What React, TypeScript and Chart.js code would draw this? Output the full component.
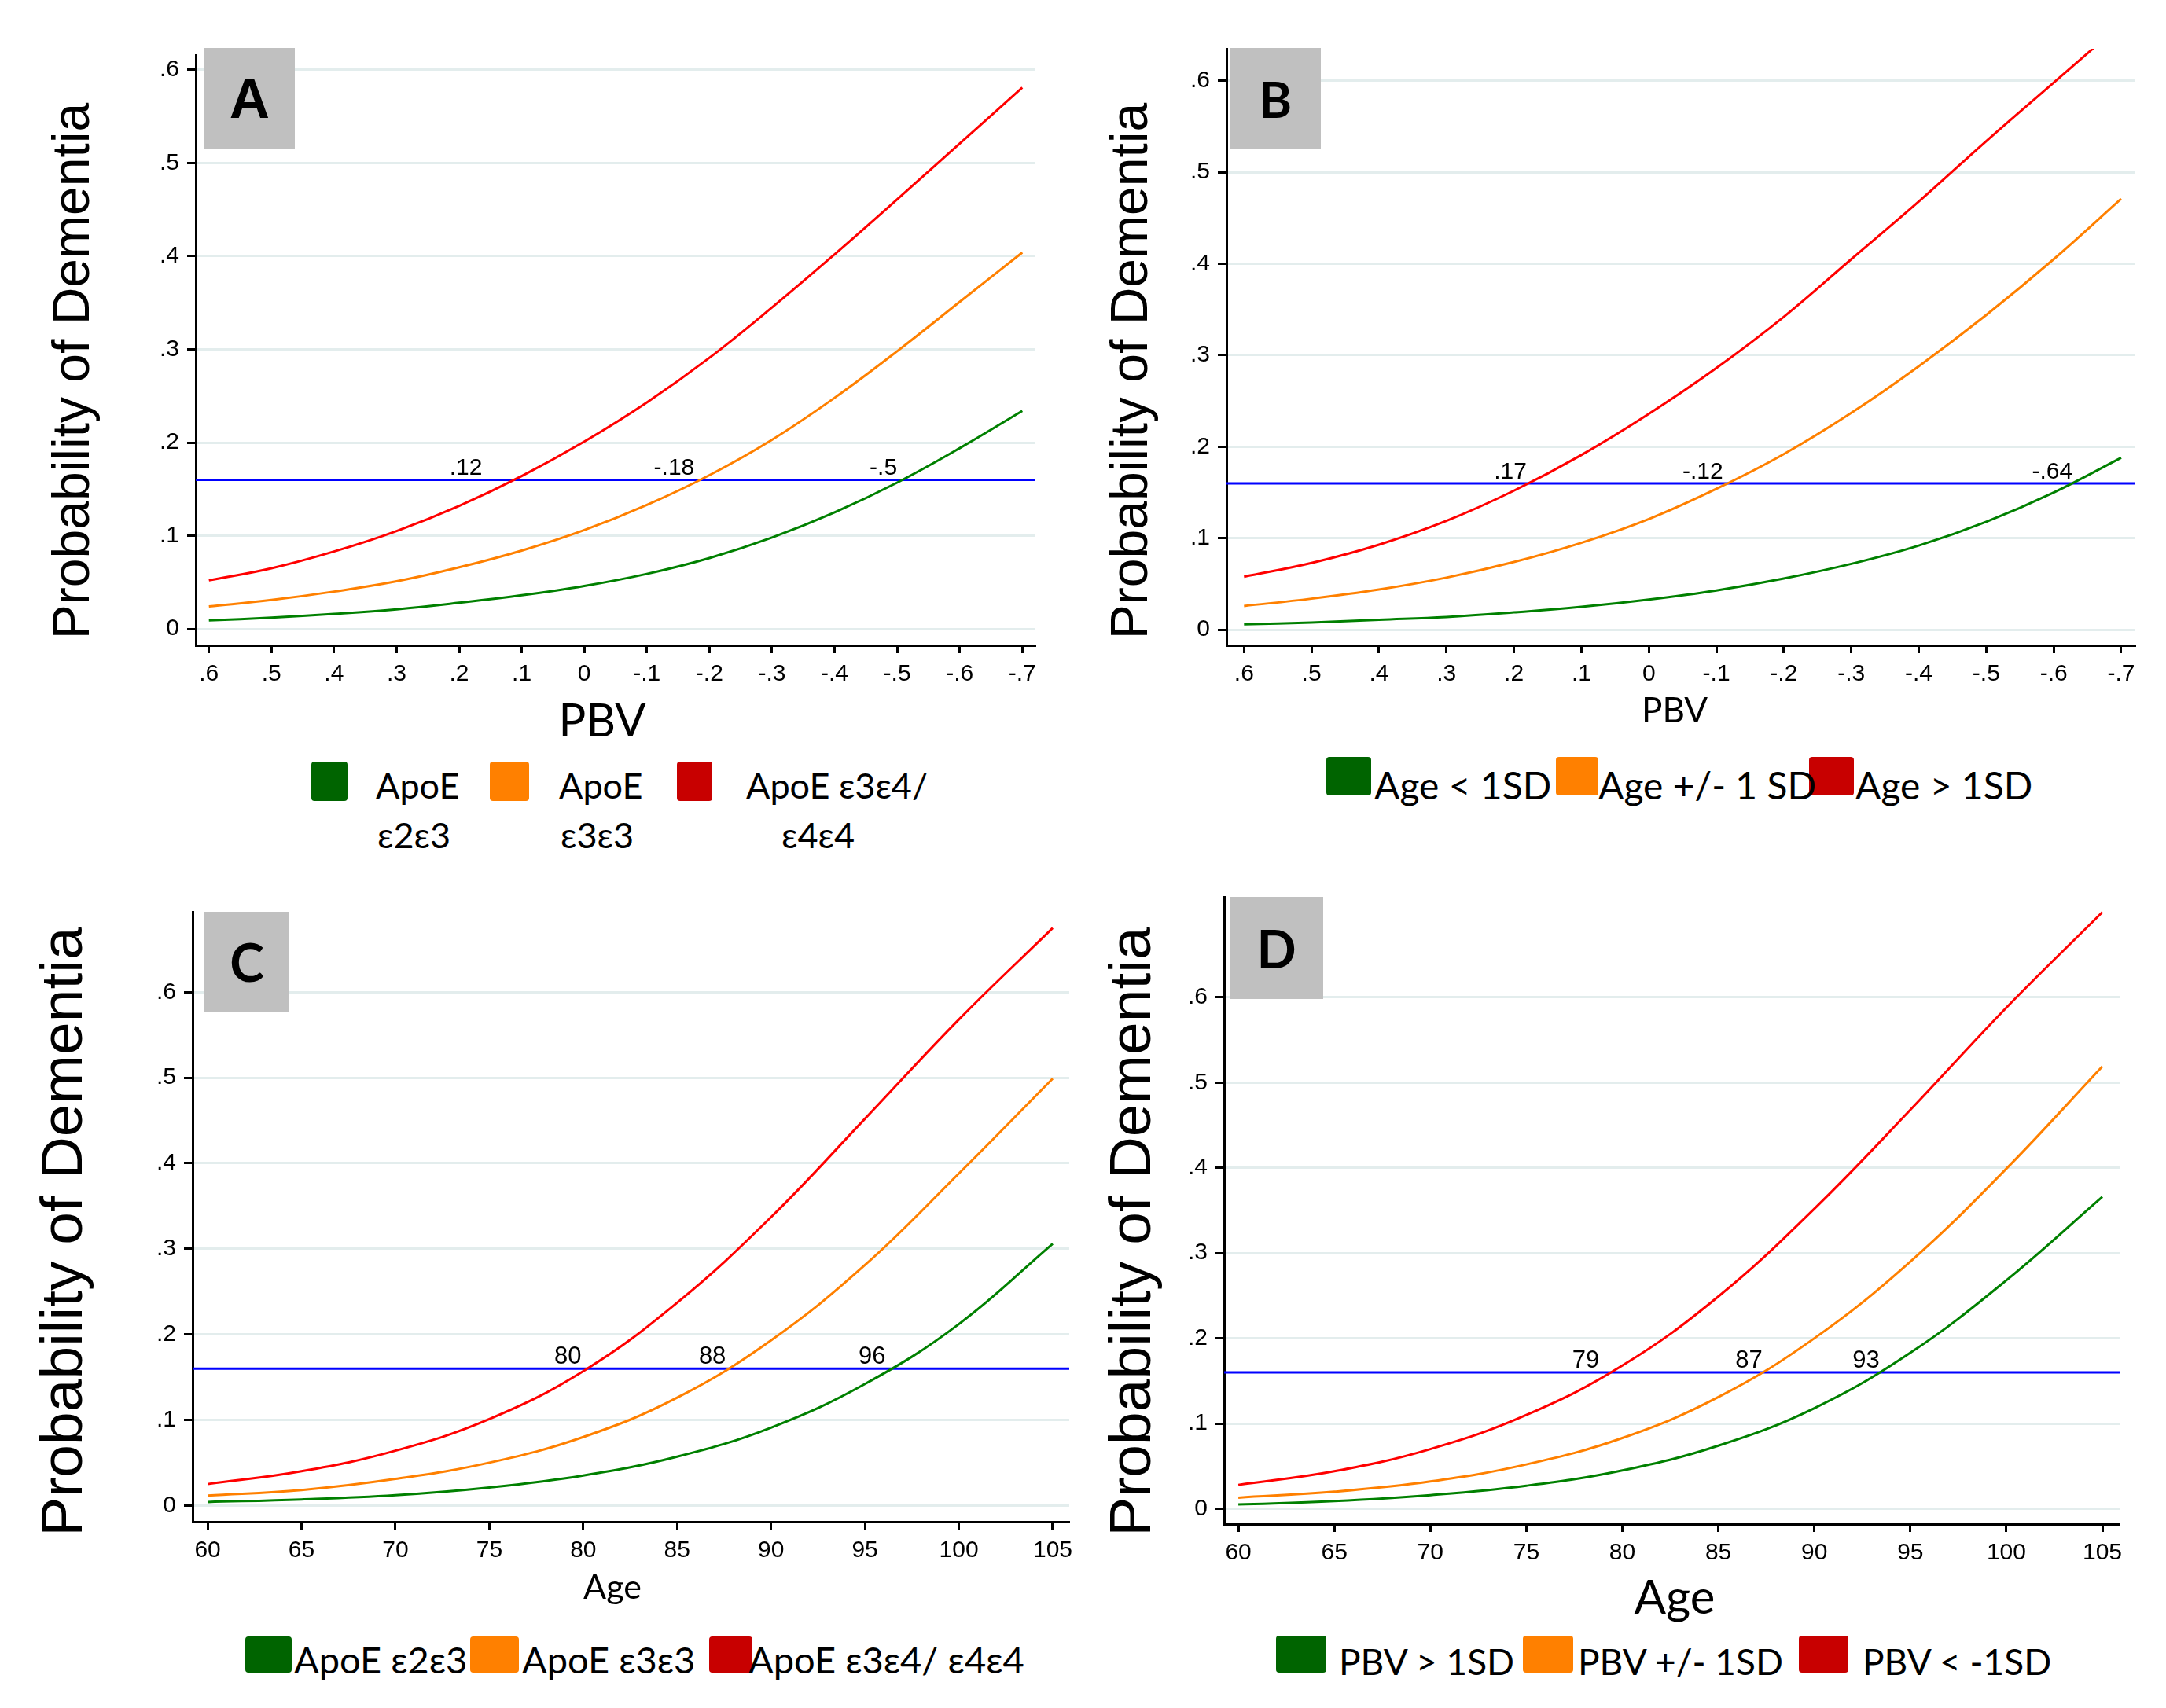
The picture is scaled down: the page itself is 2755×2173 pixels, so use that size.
import React, { useEffect, useRef } from "react";
import { Chart, registerables } from "chart.js";
Chart.register(...registerables);

// ---------- data ----------
const pbvValues = [0.6, 0.5, 0.4, 0.3, 0.2, 0.1, 0, -0.1, -0.2, -0.3, -0.4, -0.5, -0.6, -0.7];
const ageValues = [60, 65, 70, 75, 80, 85, 90, 95, 100, 105];
const pbvTicks = [0.6, 0.5, 0.4, 0.3, 0.2, 0.1, 0, -0.1, -0.2, -0.3, -0.4, -0.5, -0.6, -0.7];
const ageTicks = [60, 65, 70, 75, 80, 85, 90, 95, 100, 105];
const probTicks = [0, 0.1, 0.2, 0.3, 0.4, 0.5, 0.6];
const threshold = 0.16;

// Panel A: PBV by ApoE
const aGreen = [0.009, 0.012, 0.016, 0.021, 0.028, 0.036, 0.046, 0.059, 0.076, 0.098, 0.125, 0.157, 0.194, 0.234];
const aOrange = [0.024, 0.031, 0.04, 0.051, 0.066, 0.084, 0.106, 0.133, 0.165, 0.203, 0.248, 0.298, 0.351, 0.404];
const aRed = [0.052, 0.065, 0.083, 0.105, 0.132, 0.164, 0.201, 0.243, 0.291, 0.345, 0.402, 0.461, 0.521, 0.581];
const aCrossLabels = [".12", "-.18", "-.5"];
const aCrossAt = [0.163, -0.176, -0.5];
const aLegend = ["ApoE\nε2ε3", "ApoE\nε3ε3", "ApoE ε3ε4/\nε4ε4"];

// Panel B: PBV by Age group
const bGreen = [0.006, 0.008, 0.011, 0.014, 0.019, 0.025, 0.033, 0.043, 0.056, 0.072, 0.092, 0.118, 0.15, 0.188];
const bOrange = [0.026, 0.034, 0.044, 0.057, 0.074, 0.095, 0.121, 0.154, 0.192, 0.237, 0.288, 0.344, 0.405, 0.471];
const bRed = [0.058, 0.073, 0.093, 0.119, 0.152, 0.191, 0.236, 0.286, 0.342, 0.405, 0.468, 0.534, 0.598, 0.662];
const bCrossLabels = [".17", "-.12", "-.64"];
const bCrossAt = [0.181, -0.11, -0.628];
const bLegend = ["Age < 1SD", "Age +/- 1 SD", "Age > 1SD"];

// Panel C: Age by ApoE
const cGreen = [0.004, 0.007, 0.012, 0.021, 0.035, 0.057, 0.091, 0.142, 0.212, 0.306];
const cOrange = [0.0115, 0.018, 0.031, 0.05, 0.08, 0.126, 0.193, 0.281, 0.388, 0.499];
const cRed = [0.025, 0.04, 0.064, 0.101, 0.157, 0.237, 0.337, 0.452, 0.568, 0.675];
const cCrossLabels = ["80", "88", "96"];
const cCrossAt = [79.9, 87.6, 96.1];
const cLegend = ["ApoE ε2ε3", "ApoE ε3ε3", "ApoE ε3ε4/ ε4ε4"];

// Panel D: Age by PBV group
const dGreen = [0.005, 0.009, 0.016, 0.027, 0.045, 0.074, 0.118, 0.183, 0.268, 0.366];
const dOrange = [0.013, 0.02, 0.032, 0.052, 0.083, 0.131, 0.2, 0.29, 0.399, 0.519];
const dRed = [0.028, 0.044, 0.07, 0.11, 0.168, 0.249, 0.352, 0.468, 0.588, 0.7];
const dCrossLabels = ["79", "87", "93"];
const dCrossAt = [78.8, 87.3, 93.4];
const dLegend = ["PBV > 1SD", "PBV +/- 1SD", "PBV < -1SD"];

const yTitleText = "Probability of Dementia";

// ---------- styles ----------
const LINE_COLORS = ["#008000", "#ff8000", "#ff0000"];
const SWATCH_COLORS = ["#006400", "#ff8000", "#c80000"];
const ARIAL = "'Liberation Sans', Arial, sans-serif";
const CAL = "Lato, 'Noto Sans', 'Open Sans', sans-serif";

const fmtDec = (v: number) => {
  const r = Math.round(v * 10) / 10;
  if (r === 0) return "0";
  const s = Math.abs(r).toFixed(1).slice(1);
  return (r < 0 ? "-" : "") + s;
};
const fmtInt = (v: number) => String(Math.round(v));

type Box = { l: number; t: number; w: number; h: number };
type Panel = {
  key: string;
  canvas: Box;
  area: { l: number; t: number; r: number; b: number };
  xValues: number[];
  xTicks: number[];
  xFmt: (v: number) => string;
  xMin: number;
  xMax: number;
  reverse: boolean;
  yMin: number;
  yMax: number;
  series: number[][];
  xTitle: string;
  xTitleSize: number;
  xTitleX: number;
  xTitleBase: number;
  yTitleX: number;
  yTitleY: number;
  yTitleSize: number;
  crossLabels: string[];
  crossAt: number[];
  crossSize: number;
  letter: string;
  letterBox: Box;
  letterFont: string;
  legendText: string[];
  swatches: Box[];
  lineLefts: number[][];
  textTop: number;
  textSize: number;
  lineHeight: number;
};

const panels: Panel[] = [
  {
    key: "A",
    canvas: { l: 0, t: 0, w: 1390, h: 960 },
    area: { l: 249, t: 70, r: 1317, b: 821 },
    xValues: pbvValues,
    xTicks: pbvTicks,
    xFmt: fmtDec,
    xMin: -0.721,
    xMax: 0.621,
    reverse: true,
    yMin: -0.0177,
    yMax: 0.616,
    series: [aGreen, aOrange, aRed],
    xTitle: "PBV",
    xTitleSize: 58,
    xTitleX: 766,
    xTitleBase: 937,
    yTitleX: 95,
    yTitleY: 472,
    yTitleSize: 66,
    crossLabels: aCrossLabels,
    crossAt: aCrossAt,
    crossSize: 30,
    letter: "A",
    letterBox: { l: 260, t: 61, w: 115, h: 128 },
    letterFont: `bold 71px ${ARIAL}`,
    legendText: aLegend,
    swatches: [
      { l: 396, t: 969, w: 46, h: 50 },
      { l: 623, t: 969, w: 50, h: 50 },
      { l: 861, t: 969, w: 45, h: 50 },
    ],
    lineLefts: [
      [478, 480],
      [711, 713],
      [949, 994],
    ],
    textTop: 968,
    textSize: 45,
    lineHeight: 63,
  },
  {
    key: "B",
    canvas: { l: 1390, t: 0, w: 1365, h: 960 },
    area: { l: 1560, t: 62, r: 2716, b: 821 },
    xValues: pbvValues,
    xTicks: pbvTicks,
    xFmt: fmtDec,
    xMin: -0.721,
    xMax: 0.626,
    reverse: true,
    yMin: -0.017,
    yMax: 0.635,
    series: [bGreen, bOrange, bRed],
    xTitle: "PBV",
    xTitleSize: 44,
    xTitleX: 2130,
    xTitleBase: 919,
    yTitleX: 1441,
    yTitleY: 472,
    yTitleSize: 66,
    crossLabels: bCrossLabels,
    crossAt: bCrossAt,
    crossSize: 30,
    letter: "B",
    letterBox: { l: 1564, t: 61, w: 116, h: 128 },
    letterFont: `bold 64px ${CAL}`,
    legendText: bLegend,
    swatches: [
      { l: 1687, t: 963, w: 57, h: 49 },
      { l: 1979, t: 963, w: 54, h: 49 },
      { l: 2301, t: 963, w: 57, h: 49 },
    ],
    lineLefts: [[1748], [2033], [2360]],
    textTop: 970,
    textSize: 48,
    lineHeight: 58,
  },
  {
    key: "C",
    canvas: { l: 0, t: 1100, w: 1400, h: 960 },
    area: { l: 245, t: 1160, r: 1360, b: 1936 },
    xValues: ageValues,
    xTicks: ageTicks,
    xFmt: fmtInt,
    xMin: 59.2,
    xMax: 105.88,
    reverse: false,
    yMin: -0.019,
    yMax: 0.694,
    series: [cGreen, cOrange, cRed],
    xTitle: "Age",
    xTitleSize: 43,
    xTitleX: 779,
    xTitleBase: 2034,
    yTitleX: 83,
    yTitleY: 1567,
    yTitleSize: 75,
    crossLabels: cCrossLabels,
    crossAt: cCrossAt,
    crossSize: 31,
    letter: "C",
    letterBox: { l: 260, t: 1160, w: 108, h: 127 },
    letterFont: `bold 66px ${CAL}`,
    legendText: cLegend,
    swatches: [
      { l: 312, t: 2082, w: 59, h: 46 },
      { l: 598, t: 2082, w: 62, h: 46 },
      { l: 902, t: 2082, w: 55, h: 46 },
    ],
    lineLefts: [[374], [664], [952]],
    textTop: 2083,
    textSize: 47,
    lineHeight: 56,
  },
  {
    key: "D",
    canvas: { l: 1390, t: 1100, w: 1365, h: 980 },
    area: { l: 1557, t: 1141, r: 2696, b: 1939 },
    xValues: ageValues,
    xTicks: ageTicks,
    xFmt: fmtInt,
    xMin: 59.26,
    xMax: 105.9,
    reverse: false,
    yMin: -0.018,
    yMax: 0.718,
    series: [dGreen, dOrange, dRed],
    xTitle: "Age",
    xTitleSize: 60,
    xTitleX: 2130,
    xTitleBase: 2053,
    yTitleX: 1442,
    yTitleY: 1567,
    yTitleSize: 75,
    crossLabels: dCrossLabels,
    crossAt: dCrossAt,
    crossSize: 31,
    letter: "D",
    letterBox: { l: 1564, t: 1141, w: 119, h: 130 },
    letterFont: `bold 66px ${CAL}`,
    legendText: dLegend,
    swatches: [
      { l: 1623, t: 2081, w: 64, h: 47 },
      { l: 1937, t: 2081, w: 64, h: 47 },
      { l: 2288, t: 2081, w: 63, h: 47 },
    ],
    lineLefts: [[1703], [2007], [2369]],
    textTop: 2086,
    textSize: 46,
    lineHeight: 55,
  },
];

// ---------- plugin: threshold line, crossing labels, axis titles ----------
const annotPlugin = {
  id: "annot",
  beforeDatasetsDraw(chart: any, _args: any, opts: any) {
    const { ctx, chartArea, scales } = chart;
    const yy = scales.y.getPixelForValue(opts.threshold);
    ctx.save();
    ctx.strokeStyle = "#0000ff";
    ctx.lineWidth = 3;
    ctx.beginPath();
    ctx.moveTo(chartArea.left, yy);
    ctx.lineTo(chartArea.right, yy);
    ctx.stroke();
    ctx.restore();
  },
  afterDraw(chart: any, _args: any, opts: any) {
    const { ctx, scales } = chart;
    const yy = scales.y.getPixelForValue(opts.threshold);
    ctx.save();
    ctx.fillStyle = "#000";
    ctx.font = `${opts.crossSize}px ${ARIAL}`;
    ctx.textAlign = "right";
    ctx.textBaseline = "alphabetic";
    const labels: string[] = opts.labels;
    const at: number[] = opts.at;
    for (let i = 0; i < labels.length; i++) {
      ctx.fillText(labels[i], scales.x.getPixelForValue(at[i]), yy - 6);
    }
    // x axis title
    ctx.font = `${opts.xTitleSize}px ${CAL}`;
    ctx.textAlign = "center";
    ctx.textBaseline = "alphabetic";
    ctx.fillText(opts.xTitle, opts.xTitleX, opts.xTitleBase);
    // y axis title
    ctx.translate(opts.yTitleX, opts.yTitleY);
    ctx.rotate(-Math.PI / 2);
    ctx.font = `${opts.yTitleSize}px ${ARIAL}`;
    ctx.textAlign = "center";
    ctx.textBaseline = "middle";
    ctx.fillText(opts.yTitle, 0, 0);
    ctx.restore();
  },
};

function makeConfig(p: Panel): any {
  const tickFont = { family: ARIAL, size: 30 };
  return {
    type: "line",
    data: {
      datasets: p.series.map((s, i) => ({
        data: p.xValues.map((x, j) => ({ x, y: s[j] })),
        borderColor: LINE_COLORS[i],
        borderWidth: 3,
        pointRadius: 0,
        fill: false,
        tension: 0.4,
      })),
    },
    options: {
      animation: false,
      responsive: false,
      maintainAspectRatio: false,
      devicePixelRatio: 1,
      events: [],
      layout: {
        padding: {
          top: p.area.t - p.canvas.t,
          right: p.canvas.l + p.canvas.w - p.area.r,
          left: 0,
          bottom: 0,
        },
      },
      plugins: {
        legend: { display: false },
        tooltip: { enabled: false },
        annot: {
          threshold,
          labels: p.crossLabels,
          at: p.crossAt,
          crossSize: p.crossSize,
          xTitle: p.xTitle,
          xTitleSize: p.xTitleSize,
          xTitleX: p.xTitleX - p.canvas.l,
          xTitleBase: p.xTitleBase - p.canvas.t,
          yTitle: yTitleText,
          yTitleX: p.yTitleX - p.canvas.l,
          yTitleY: p.yTitleY - p.canvas.t,
          yTitleSize: p.yTitleSize,
        },
      },
      scales: {
        x: {
          type: "linear",
          min: p.xMin,
          max: p.xMax,
          reverse: p.reverse,
          afterBuildTicks: (s: any) => {
            s.ticks = p.xTicks.map((v) => ({ value: v }));
          },
          afterFit: (s: any) => {
            s.height = p.canvas.t + p.canvas.h - p.area.b;
          },
          ticks: {
            callback: (v: any) => p.xFmt(Number(v)),
            font: tickFont,
            color: "#000",
            padding: 9,
            maxRotation: 0,
            autoSkip: false,
          },
          grid: {
            drawOnChartArea: false,
            drawTicks: true,
            tickLength: 10,
            tickWidth: 3,
            tickColor: "#000",
          },
          border: { display: true, color: "#000", width: 3 },
        },
        y: {
          type: "linear",
          min: p.yMin,
          max: p.yMax,
          afterBuildTicks: (s: any) => {
            s.ticks = probTicks.map((v) => ({ value: v }));
          },
          afterFit: (s: any) => {
            s.width = p.area.l - p.canvas.l;
          },
          ticks: {
            callback: (v: any) => fmtDec(Number(v)),
            font: tickFont,
            color: "#000",
            padding: 10,
            autoSkip: false,
          },
          grid: {
            color: "#e3eded",
            lineWidth: 3,
            drawTicks: true,
            tickLength: 11,
            tickWidth: 3,
            tickColor: "#000",
          },
          border: { display: true, color: "#000", width: 3 },
        },
      },
    },
    plugins: [annotPlugin],
  };
}

function PanelChart({ p }: { p: Panel }) {
  const ref = useRef<HTMLCanvasElement>(null);
  useEffect(() => {
    const chart = new Chart(ref.current as HTMLCanvasElement, makeConfig(p));
    return () => chart.destroy();
  }, [p]);
  return (
    <canvas
      ref={ref}
      width={p.canvas.w}
      height={p.canvas.h}
      style={{
        position: "absolute",
        left: p.canvas.l,
        top: p.canvas.t,
        width: p.canvas.w,
        height: p.canvas.h,
      }}
    />
  );
}

function PanelOverlay({ p }: { p: Panel }) {
  return (
    <>
      <div
        style={{
          position: "absolute",
          left: p.letterBox.l,
          top: p.letterBox.t,
          width: p.letterBox.w,
          height: p.letterBox.h,
          background: "#c0c0c0",
          display: "flex",
          alignItems: "center",
          justifyContent: "center",
          font: p.letterFont,
          color: "#000",
        }}
      >
        {p.letter}
      </div>
      {p.swatches.map((s, i) => (
        <div
          key={"sw" + i}
          style={{
            position: "absolute",
            left: s.l,
            top: s.t,
            width: s.w,
            height: s.h,
            background: SWATCH_COLORS[i],
            borderRadius: 4,
          }}
        />
      ))}
      {p.legendText.map((txt, i) =>
        txt.split("\n").map((line, k) => (
          <div
            key={"tx" + i + "_" + k}
            style={{
              position: "absolute",
              left: p.lineLefts[i][k],
              top: p.textTop + k * p.lineHeight,
              whiteSpace: "pre",
              fontFamily: CAL,
              fontSize: p.textSize,
              lineHeight: p.lineHeight + "px",
              color: "#000",
            }}
          >
            {line}
          </div>
        ))
      )}
    </>
  );
}

export default function App() {
  return (
    <div
      style={{
        position: "absolute",
        left: 0,
        top: 0,
        width: 2755,
        height: 2173,
        background: "#fff",
        overflow: "hidden",
      }}
    >
      {panels.map((p) => (
        <PanelChart key={"c" + p.key} p={p} />
      ))}
      {panels.map((p) => (
        <PanelOverlay key={"o" + p.key} p={p} />
      ))}
    </div>
  );
}
